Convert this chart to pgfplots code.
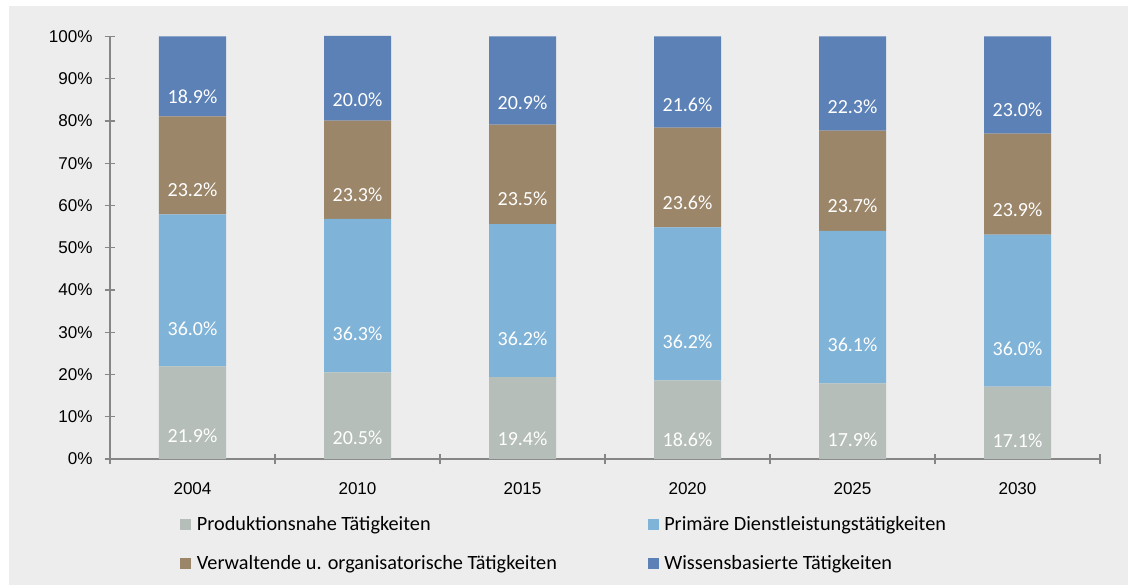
\documentclass[border=0pt]{standalone}
\usepackage{pgfplots}
\pgfplotsset{compat=1.18}
\usepackage{fontspec}
\setmainfont{Carlito}
\newfontfamily\arial{Liberation Sans}
\definecolor{prodc}{HTML}{B5BEB9}
\definecolor{primc}{HTML}{80B3D8}
\definecolor{verwc}{HTML}{9C8669}
\definecolor{wissc}{HTML}{5B81B6}
\definecolor{bgc}{HTML}{EDEDED}
\definecolor{axc}{HTML}{868686}

\begin{document}
\begin{tikzpicture}
% page and grey chart area (1px = 0.75pt, origin at lower left of the plot)
\fill[white] (-82.5pt,-94.5pt) rectangle (768pt,344.25pt);
\fill[bgc] (-75.75pt,-94.5pt) rectangle (763.5pt,339.75pt);
\begin{axis}[
  scale only axis, width=742.5pt, height=317.25pt,
  ybar stacked, bar width=50.25pt,
  % 2010 adds up to 100.1, so leave a hair of room for its top label
  xmin=-0.5, xmax=5.5, ymin=0, ymax=100.1,
  axis x line*=bottom, axis y line*=left,
  axis line style={axc, line width=1.3pt},
  tick style={axc, line width=1pt}, tick align=center,
  major tick length=8pt, minor tick length=8pt,
  xtick={0,...,5},
  xticklabels={2004,2010,2015,2020,2025,2030},
  minor xtick={-0.5,0.5,...,5.5},
  every major x tick/.append style={draw=none},
  ytick={0,10,...,100},
  yticklabel={\pgfmathprintnumber{\tick}\%},
  tick label style={font=\arial\fontsize{12.8}{15}\selectfont,
    /pgf/number format/assume math mode=true},
  xticklabel style={yshift=-10pt},
  yticklabel style={xshift=-5.5pt},
  visualization depends on=rawy \as \rawy,
  nodes near coords={\pgfmathprintnumber[fixed,fixed zerofill,precision=1,assume math mode=true]{\pgfplotspointmeta}\%},
  every node near coord/.append style={font=\fontsize{15}{17}\selectfont,
    text=white, anchor=center, shift={(axis direction cs:0,-\rawy/4)}},
  legend columns=2, legend cell align=left,
  legend style={at={(0.0707,-0.13)}, anchor=north west, draw=none, fill=none,
    inner sep=0pt, font=\fontsize{15.2}{18}\selectfont, row sep=12.75pt,
    /tikz/every odd column/.append style={column sep=2.25pt},
    /tikz/every even column/.append style={column sep=66pt}},
  legend image code/.code={\fill[#1] (0pt,-4.1pt) rectangle (8.25pt,4.1pt);},
]
\addplot[fill=prodc, draw=none] coordinates {(0,21.9) (1,20.5) (2,19.4) (3,18.6) (4,17.9) (5,17.1)};
\addplot[fill=primc, draw=none] coordinates {(0,36.0) (1,36.3) (2,36.2) (3,36.2) (4,36.1) (5,36.0)};
\addplot[fill=verwc, draw=none] coordinates {(0,23.2) (1,23.3) (2,23.5) (3,23.6) (4,23.7) (5,23.9)};
\addplot[fill=wissc, draw=none] coordinates {(0,18.9) (1,20.0) (2,20.9) (3,21.6) (4,22.3) (5,23.0)};
\legend{Produktionsnahe Tätigkeiten, Primäre Dienstleistungstätigkeiten,
  Verwaltende u. organisatorische Tätigkeiten, Wissensbasierte Tätigkeiten}
\end{axis}
\end{tikzpicture}
\end{document}
